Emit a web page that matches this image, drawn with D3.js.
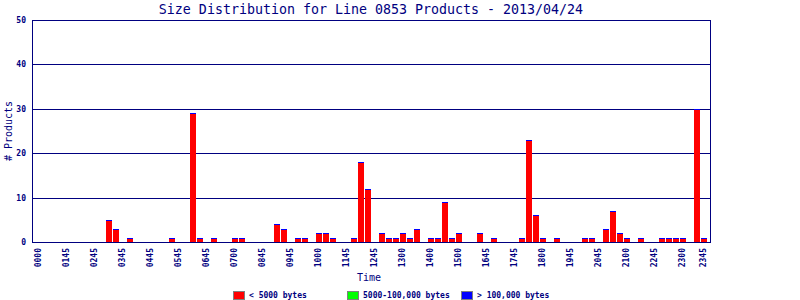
<!DOCTYPE html>
<html>
<head>
<meta charset="utf-8">
<script src="https://cdn.jsdelivr.net/npm/d3@7"></script>
<style>
  body { margin: 0; background: #fff; }
  svg { display: block; }
  text { font-family: "DejaVu Sans Mono", monospace; fill: #000080; }
</style>
</head>
<body>
<svg id="chart" width="800" height="300"></svg>
<script>
// 15 minute bins, 96 per day
let tickBins = [0, 4, 8, 12, 16, 20, 24, 28, 32, 36, 40, 44, 48, 52, 56, 60, 64, 68, 72, 76, 80, 84, 88, 92, 95];
let tickLabels = ['0000', '0145', '0245', '0345', '0445', '0545', '0645', '0700', '0845', '0945', '1000', '1145',
  '1245', '1300', '1400', '1500', '1645', '1745', '1800', '1945', '2045', '2100', '2245', '2300', '2345'];

let small = [
  0, 0, 0, 0, 0, 0, 0, 0, 0, 0, 5, 3,
  0, 1, 0, 0, 0, 0, 0, 1, 0, 0, 29, 1,
  0, 1, 0, 0, 1, 1, 0, 0, 0, 0, 4, 3,
  0, 1, 1, 0, 2, 2, 1, 0, 0, 1, 18, 12,
  0, 2, 1, 1, 2, 1, 3, 0, 1, 1, 9, 1,
  2, 0, 0, 2, 0, 1, 0, 0, 0, 1, 23, 6,
  1, 0, 1, 0, 0, 0, 1, 1, 0, 3, 7, 2,
  1, 0, 1, 0, 0, 1, 1, 1, 1, 0, 30, 1
];
let medium = [
  0, 0, 0, 0, 0, 0, 0, 0, 0, 0, 0, 0,
  0, 0, 0, 0, 0, 0, 0, 0, 0, 0, 0, 0,
  0, 0, 0, 0, 0, 0, 0, 0, 0, 0, 0, 0,
  0, 0, 0, 0, 0, 0, 0, 0, 0, 0, 0, 0,
  0, 0, 0, 0, 0, 0, 0, 0, 0, 0, 0, 0,
  0, 0, 0, 0, 0, 0, 0, 0, 0, 0, 0, 0,
  0, 0, 0, 0, 0, 0, 0, 0, 0, 0, 0, 0,
  0, 0, 0, 0, 0, 0, 0, 0, 0, 0, 0, 0
];
let large = [
  0, 0, 0, 0, 0, 0, 0, 0, 0, 0, 0, 0,
  0, 0, 0, 0, 0, 0, 0, 0, 0, 0, 0, 0,
  0, 0, 0, 0, 0, 0, 0, 0, 0, 0, 0, 0,
  0, 0, 0, 0, 0, 0, 0, 0, 0, 0, 0, 0,
  0, 0, 0, 0, 0, 0, 0, 0, 0, 0, 0, 0,
  0, 0, 0, 0, 0, 0, 0, 0, 0, 0, 0, 0,
  0, 0, 0, 0, 0, 0, 0, 0, 0, 0, 0, 0,
  0, 0, 0, 0, 0, 0, 0, 0, 0, 0, 0, 0
];
let yTicks = [0, 10, 20, 30, 40, 50];

let Series = [
  {key: 'small', color: '#ff0000', text: '< 5000 bytes'},
  {key: 'medium', color: '#00ff00', text: '5000-100,000 bytes'},
  {key: 'large', color: '#0000ff', text: '> 100,000 bytes'}
];

let navy = '#000080';
let plotLeft = 32, plotRight = 710, plotTop = 20, plotBottom = 242;

let svg = d3.select('#chart');

let rows = small.map((v, i) => ({bin: i, small: v, medium: medium[i], large: large[i]}));

let x = d3.scaleBand()
  .domain(d3.range(small.length))
  .range([36, 707])
  .paddingInner(1 / 7)
  .paddingOuter(0);

let y = d3.scaleLinear()
  .domain([0, 50])
  .range([plotBottom, plotTop]);

// title
svg.append('text')
  .attr('x', (plotLeft + plotRight) / 2)
  .attr('y', 14)
  .attr('text-anchor', 'middle')
  .style('font-size', '13.3px')
  .text('Size Distribution for Line 0853 Products - 2013/04/24');

// grid lines
svg.append('g')
  .selectAll('line')
  .data(yTicks.filter(t => t > 0))
  .enter()
  .append('line')
  .attr('x1', plotLeft)
  .attr('x2', plotRight)
  .attr('y1', d => Math.round(y(d)) + 0.5)
  .attr('y2', d => Math.round(y(d)) + 0.5)
  .attr('stroke', navy)
  .attr('stroke-width', 1);

// stacked bars
let stacked = d3.stack().keys(Series.map(s => s.key))(rows);

svg.append('g')
  .attr('shape-rendering', 'crispEdges')
  .selectAll('g')
  .data(stacked)
  .enter()
  .append('g')
  .attr('fill', (d, i) => Series[i].color)
  .selectAll('rect')
  .data(d => d.filter(p => p.data.small + p.data.medium + p.data.large > 0))
  .enter()
  .append('rect')
  .attr('x', d => x(d.data.bin))
  .attr('width', x.bandwidth())
  .attr('y', d => Math.round(y(d[1])))
  .attr('height', d => Math.max(1, Math.round(y(d[0])) - Math.round(y(d[1]))));

// frame
svg.append('rect')
  .attr('x', plotLeft + 0.5)
  .attr('y', plotTop + 0.5)
  .attr('width', plotRight - plotLeft)
  .attr('height', plotBottom - plotTop)
  .attr('fill', 'none')
  .attr('stroke', navy)
  .attr('stroke-width', 1);

// y axis labels
let yAxis = d3.axisLeft(y).tickValues(yTicks).tickSize(0).tickPadding(6);
svg.append('g')
  .attr('transform', 'translate(' + plotLeft + ',0)')
  .call(yAxis)
  .call(g => g.select('.domain').remove())
  .call(g => g.selectAll('text')
    .style('font-family', '"DejaVu Sans Mono", monospace')
    .style('font-size', '8px')
    .style('font-weight', 'bold')
    .attr('fill', navy));

// x axis labels (rotated)
svg.append('g')
  .selectAll('text')
  .data(tickBins)
  .enter()
  .append('text')
  .attr('transform', d => 'translate(' + (x(d) + x.bandwidth() / 2 - 1) + ',248) rotate(-90)')
  .attr('text-anchor', 'end')
  .attr('dy', '0.35em')
  .style('font-size', '8px')
  .style('font-weight', 'bold')
  .text((d, i) => tickLabels[i]);

// axis titles
svg.append('text')
  .attr('x', 369)
  .attr('y', 281)
  .attr('text-anchor', 'middle')
  .style('font-size', '10px')
  .text('Time');

svg.append('text')
  .attr('transform', 'translate(8,' + ((plotTop + plotBottom) / 2) + ') rotate(-90)')
  .attr('text-anchor', 'middle')
  .attr('dy', '0.35em')
  .style('font-size', '10px')
  .text('# Products');

// legend
let legend = svg.append('g')
  .selectAll('g')
  .data(Series)
  .enter()
  .append('g')
  .attr('transform', (d, i) => 'translate(' + (233 + i * 114) + ',291)');

legend.append('rect')
  .attr('x', 0.5)
  .attr('y', 0.5)
  .attr('width', 11)
  .attr('height', 8)
  .attr('fill', d => d.color)
  .attr('stroke', '#808080')
  .attr('shape-rendering', 'crispEdges');

legend.append('text')
  .attr('x', 16)
  .attr('y', 7)
  .style('font-size', '8px')
  .style('font-weight', 'bold')
  .text(d => d.text);
</script>
</body>
</html>
